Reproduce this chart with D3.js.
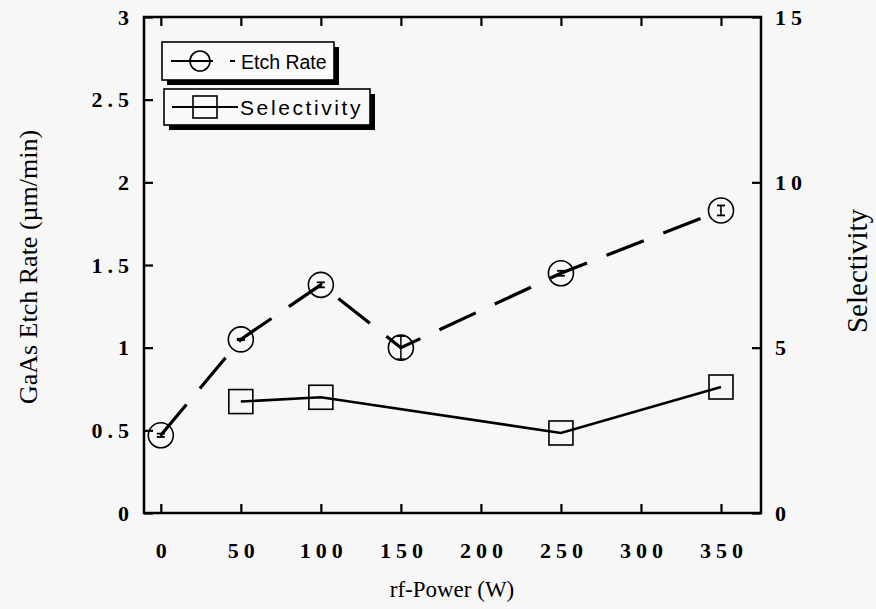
<!DOCTYPE html>
<html>
<head>
<meta charset="utf-8">
<script src="https://cdn.jsdelivr.net/npm/d3@7/dist/d3.min.js"></script>
<style>
  body { margin: 0; background: #f7f7f7; }
  svg { display: block; }
</style>
</head>
<body>
<svg id="chart" width="876" height="609"></svg>
<script>
// ---- data ----
const power = [0, 50, 100, 150, 250, 350];
const etchRate = [0.47, 1.05, 1.38, 1.00, 1.45, 1.83];
const etchErr = [0.01, 0.004, 0.015, 0.07, 0.015, 0.03];
const selPower = [50, 100, 250, 350];
const selectivity = [3.37, 3.50, 2.42, 3.81];
const xTicks = [0, 50, 100, 150, 200, 250, 300, 350];
const yLeftTicks = [0, 0.5, 1, 1.5, 2, 2.5, 3];
const yLeftLabels = ["0", "0.5", "1", "1.5", "2", "2.5", "3"];
const yRightTicks = [0, 5, 10, 15];
const legendLabels = ["Etch Rate", "Selectivity"];
const xTitle = "rf-Power (W)";
const yLeftTitle = "GaAs Etch Rate (\u00b5m/min)";
const yRightTitle = "Selectivity";

const svg = d3.select("#chart");
const L = 144, R = 761, T = 17, B = 513;

const x = d3.scaleLinear().domain([-10.5, 375]).range([L, R]);
const yL = d3.scaleLinear().domain([0, 3]).range([B, T]);
const yR = d3.scaleLinear().domain([0, 15]).range([B, T]);

const tickFont = "'Liberation Serif', 'Times New Roman', serif";

// axes (ticks inward)
const tk = 9;
function styleAxis(g) {
  g.select(".domain").remove();
  g.selectAll(".tick line").attr("stroke", "#000").attr("stroke-width", 2.2);
  g.selectAll(".tick text").attr("fill", "#000")
    .style("font-family", tickFont).style("font-weight", "bold")
    .style("font-size", "22px").style("letter-spacing", "5px");
}
svg.append("g").attr("transform", `translate(0,${B})`)
  .call(d3.axisBottom(x).tickValues(xTicks).tickSizeInner(-tk).tickSizeOuter(0).tickPadding(29).tickFormat(d3.format("d")))
  .call(styleAxis)
  .call(g => g.selectAll(".tick text").attr("dx", "2.5px"));
svg.append("g").attr("transform", `translate(0,${T})`)
  .call(d3.axisTop(x).tickValues(xTicks).tickSizeInner(-tk).tickSizeOuter(0).tickFormat(""))
  .call(styleAxis);
svg.append("g").attr("transform", `translate(${L},0)`)
  .call(d3.axisLeft(yL).tickValues(yLeftTicks).tickSizeInner(-tk).tickSizeOuter(0).tickPadding(15)
    .tickFormat((d, i) => yLeftLabels[i]))
  .call(styleAxis)
  .call(g => g.selectAll(".tick text").attr("dx", "5px"));
svg.append("g").attr("transform", `translate(${R},0)`)
  .call(d3.axisRight(yR).tickValues(yRightTicks).tickSizeInner(-tk).tickSizeOuter(0).tickPadding(14).tickFormat(d3.format("d")))
  .call(styleAxis);

// frame
svg.append("rect").attr("x", L).attr("y", T).attr("width", R - L).attr("height", B - T)
  .attr("fill", "none").attr("stroke", "#000").attr("stroke-width", 2.5);

// axis titles
const titleFont = "'Liberation Serif', 'Times New Roman', serif";
svg.append("text").attr("x", 452).attr("y", 597).attr("text-anchor", "middle")
  .style("font-family", titleFont).style("font-size", "23px").text(xTitle);
svg.append("text").attr("transform", "translate(37,267) rotate(-90)").attr("text-anchor", "middle")
  .style("font-family", titleFont).style("font-size", "26px").text(yLeftTitle);
svg.append("text").attr("transform", "translate(867,271) rotate(-90)").attr("text-anchor", "middle")
  .style("font-family", titleFont).style("font-size", "29px").text(yRightTitle);

// etch rate dashed line
const etchData = power.map((p, i) => ({ x: p, y: etchRate[i], e: etchErr[i] }));
const lineL = d3.line().x(d => x(d.x)).y(d => yL(d.y));
svg.append("path").datum(etchData).attr("d", lineL)
  .attr("fill", "none").attr("stroke", "#000").attr("stroke-width", 3.2)
  .attr("stroke-dasharray", "40,21");

// selectivity solid line
const selData = selPower.map((p, i) => ({ x: p, y: selectivity[i] }));
const lineR = d3.line().x(d => x(d.x)).y(d => yR(d.y));
svg.append("path").datum(selData).attr("d", lineR)
  .attr("fill", "none").attr("stroke", "#000").attr("stroke-width", 2.6);

// error bars
const eb = svg.append("g");
etchData.forEach(d => {
  const x0 = x(d.x), y1 = yL(d.y - d.e), y2 = yL(d.y + d.e);
  eb.append("line").attr("x1", x0).attr("x2", x0).attr("y1", y1).attr("y2", y2)
    .attr("stroke", "#000").attr("stroke-width", 1.5);
  [y1, y2].forEach(yy => eb.append("line").attr("x1", x0 - 4).attr("x2", x0 + 4)
    .attr("y1", yy).attr("y2", yy).attr("stroke", "#000").attr("stroke-width", 1.8));
});

// circle markers
svg.append("g").selectAll("circle").data(etchData).join("circle")
  .attr("cx", d => x(d.x)).attr("cy", d => yL(d.y)).attr("r", 12.5)
  .attr("fill", "none").attr("stroke", "#000").attr("stroke-width", 1.6);

// square markers
const sq = 24;
svg.append("g").selectAll("rect").data(selData).join("rect")
  .attr("x", d => x(d.x) - sq / 2).attr("y", d => yR(d.y) - sq / 2)
  .attr("width", sq).attr("height", sq)
  .attr("fill", "none").attr("stroke", "#000").attr("stroke-width", 1.6);

// legend
const legFont = "'Liberation Sans', Arial, Helvetica, sans-serif";
function legendBox(x0, y0, w, h) {
  svg.append("rect").attr("x", x0 + 5).attr("y", y0 + 5).attr("width", w).attr("height", h).attr("fill", "#000");
  svg.append("rect").attr("x", x0).attr("y", y0).attr("width", w).attr("height", h)
    .attr("fill", "#fafafa").attr("stroke", "#000").attr("stroke-width", 1.6);
}
// box 1: Etch Rate
legendBox(162, 42, 172, 38);
svg.append("line").attr("x1", 171).attr("x2", 213).attr("y1", 61).attr("y2", 61)
  .attr("stroke", "#000").attr("stroke-width", 2);
svg.append("circle").attr("cx", 200).attr("cy", 61).attr("r", 10)
  .attr("fill", "none").attr("stroke", "#000").attr("stroke-width", 1.6);
svg.append("line").attr("x1", 230).attr("x2", 235).attr("y1", 61).attr("y2", 61)
  .attr("stroke", "#000").attr("stroke-width", 2);
svg.append("text").attr("x", 241).attr("y", 69)
  .style("font-family", legFont).style("font-size", "19.5px")
  .text(legendLabels[0]);
// box 2: Selectivity
legendBox(164, 89, 206, 36);
svg.append("line").attr("x1", 172).attr("x2", 238).attr("y1", 107).attr("y2", 107)
  .attr("stroke", "#000").attr("stroke-width", 2);
svg.append("rect").attr("x", 193).attr("y", 96).attr("width", 24).attr("height", 22)
  .attr("fill", "none").attr("stroke", "#000").attr("stroke-width", 1.6);
svg.append("text").attr("x", 240).attr("y", 115)
  .style("font-family", legFont).style("font-size", "21px").style("letter-spacing", "2.6px")
  .text(legendLabels[1]);
</script>
</body>
</html>
